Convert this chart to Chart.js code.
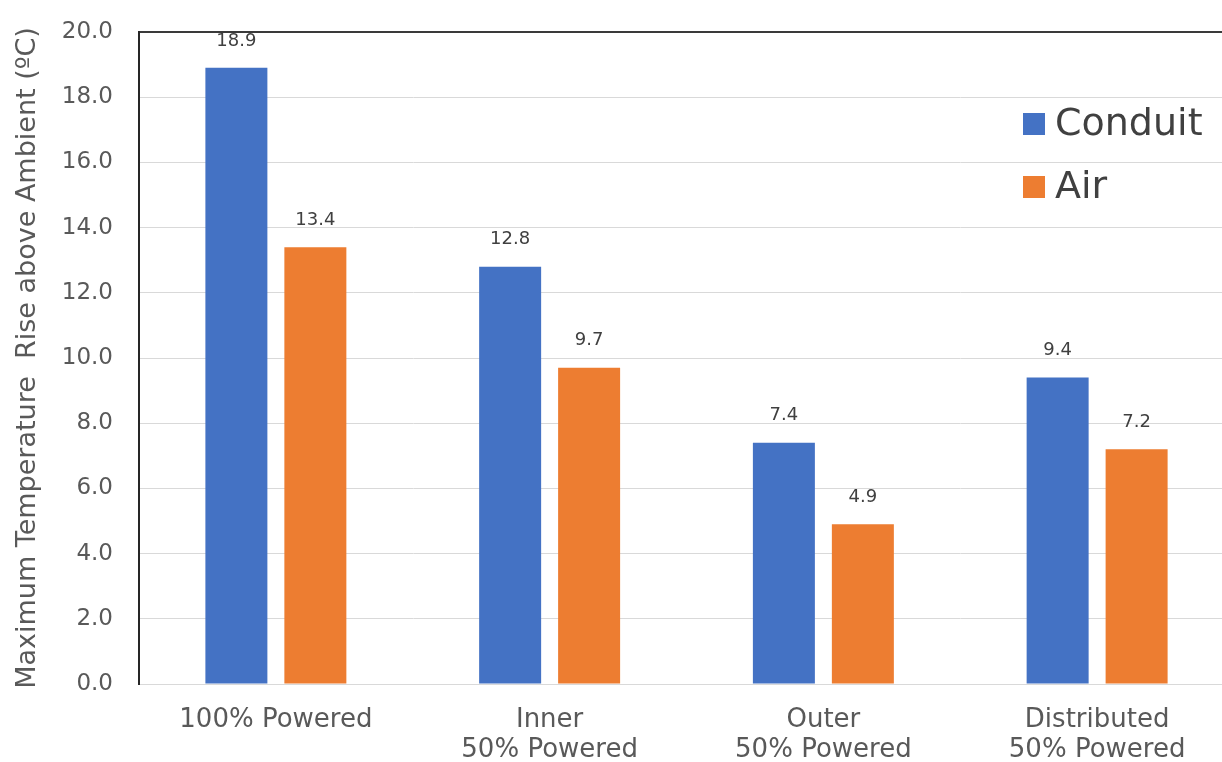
<!DOCTYPE html>
<html>
<head>
<meta charset="utf-8">
<script src="https://cdn.jsdelivr.net/npm/chart.js@4/dist/chart.umd.min.js"></script>
<style>
  html, body { margin: 0; padding: 0; background: #fff; overflow: hidden; }
  canvas { display: block; }
</style>
</head>
<body>
<canvas id="chart" width="1240" height="762"></canvas>
<script>
// values
const categories = ['100% Powered', ['Inner', '50% Powered'], ['Outer', '50% Powered'], ['Distributed', '50% Powered']];
const conduitValues = [18.9, 12.8, 7.4, 9.4];
const airValues = [13.4, 9.7, 4.9, 7.2];
const seriesNames = ['Conduit', 'Air'];
const yMax = 20;
const yStep = 2;

const FONT = "'DejaVu Sans', 'Liberation Sans', sans-serif";

// numbers above each bar
const valueLabels = {
  id: 'valueLabels',
  afterDatasetsDraw(chart) {
    const ctx = chart.ctx;
    ctx.save();
    ctx.font = '18px ' + FONT;
    ctx.fillStyle = '#404040';
    ctx.textAlign = 'center';
    ctx.textBaseline = 'middle';
    chart.data.datasets.forEach((ds, i) => {
      chart.getDatasetMeta(i).data.forEach((bar, j) => {
        ctx.fillText(ds.data[j].toFixed(1), bar.x, bar.y - 27);
      });
    });
    ctx.restore();
  }
};

// legend sitting inside the plot, top right
const innerLegend = {
  id: 'innerLegend',
  afterDraw(chart) {
    const ctx = chart.ctx;
    ctx.save();
    ctx.font = '38px ' + FONT;
    ctx.textAlign = 'left';
    ctx.textBaseline = 'middle';
    chart.data.datasets.forEach((ds, i) => {
      const top = 113 + i * 63;
      ctx.fillStyle = ds.backgroundColor;
      ctx.fillRect(1023, top, 22, 22);
      ctx.fillStyle = '#404040';
      ctx.fillText(ds.label, 1055, top + 12);
    });
    ctx.restore();
  }
};

new Chart(document.getElementById('chart'), {
  type: 'bar',
  data: {
    labels: categories,
    datasets: [
      { label: seriesNames[0], data: conduitValues, backgroundColor: '#4472C4' },
      { label: seriesNames[1], data: airValues, backgroundColor: '#ED7D31' }
    ]
  },
  options: {
    responsive: false,
    animation: false,
    categoryPercentage: 0.577,
    barPercentage: 0.785,
    layout: { padding: { top: 32, right: 6, left: 0, bottom: 0 } },
    plugins: {
      legend: { display: false },
      tooltip: { enabled: false }
    },
    scales: {
      x: {
        grid: { display: false },
        border: { color: '#d9d9d9', width: 1 },
        ticks: {
          color: '#595959',
          padding: 13,
          maxRotation: 0,
          autoSkip: false,
          font: { family: FONT, size: 26, lineHeight: 1.17 }
        },
        afterFit(scale) { scale.height = 78; }
      },
      y: {
        min: 0,
        max: yMax,
        grid: {
          drawTicks: false,
          color: ctx => ctx.tick && ctx.tick.value === yMax ? '#3a3a3a' : '#d9d9d9',
          lineWidth: ctx => ctx.tick && ctx.tick.value === yMax ? 2 : 1
        },
        border: { color: '#262626', width: 2 },
        ticks: {
          stepSize: yStep,
          color: '#595959',
          padding: 26,
          font: { family: FONT, size: 23 },
          callback: v => v.toFixed(1)
        },
        title: {
          display: true,
          text: 'Maximum Temperature  Rise above Ambient (ºC)',
          color: '#595959',
          padding: { top: 12, bottom: 0 },
          font: { family: FONT, size: 27, lineHeight: 1.2 }
        },
        afterFit(scale) {
          scale.width = 139;
          scale.paddingTop = 0;
          scale.paddingBottom = 0;
        }
      }
    }
  },
  plugins: [valueLabels, innerLegend]
});
</script>
</body>
</html>
